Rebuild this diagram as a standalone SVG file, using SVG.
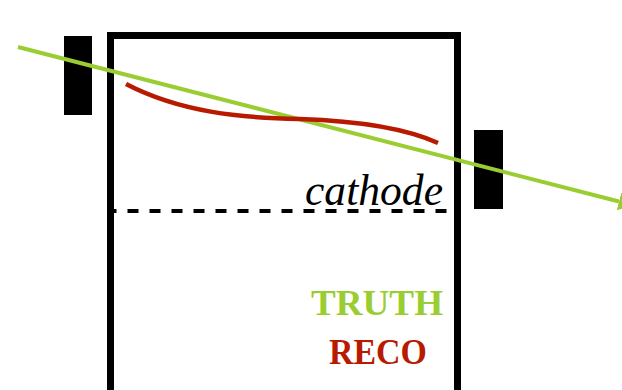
<svg xmlns="http://www.w3.org/2000/svg" width="622" height="390" viewBox="0 0 622 390">
  <style>
    .box { fill: none; stroke: #000; stroke-width: 7; }
    .det { fill: #000; }
    .truth { fill: none; stroke: #9ACD32; stroke-width: 4; }
    .reco { fill: none; stroke: #B81A00; stroke-width: 4.5; }
    .cathode-line { stroke: #000; stroke-width: 4; stroke-dasharray: 11 11; }
    .label { font-family: "Liberation Serif", serif; }
  </style>
  <defs>
    <marker id="arrow" markerUnits="userSpaceOnUse" markerWidth="16" markerHeight="18" viewBox="0 0 16 18" refX="0" refY="9" orient="auto">
      <path d="M0,0 L16,9 L0,18 z" fill="#9ACD32"/>
    </marker>
  </defs>
  <g id="cathode">
    <line class="cathode-line" x1="105.5" y1="211" x2="453" y2="211" stroke-dashoffset="0" clip-path="inset(0 0 0 1.5)"/>
    <text class="label" x="443" y="205" font-size="44" font-style="italic" text-anchor="end" textLength="138" lengthAdjust="spacingAndGlyphs">cathode</text>
  </g>
  <g id="chamber">
    <rect class="box" x="110.5" y="35.5" width="347" height="400"/>
  </g>
  <g id="detector-left">
    <rect class="det" x="64" y="36" width="28" height="79"/>
  </g>
  <g id="detector-right">
    <rect class="det" x="474" y="130" width="29" height="79"/>
  </g>
  <g id="connectors">
    <line class="truth" x1="18" y1="47" x2="619" y2="201.5" marker-end="url(#arrow)"/>
    <path class="reco" d="M126,84 C180,112 240,118 300,119 C360,121 405,128 438,143"/>
  </g>
  <g id="legend">
    <text class="label" x="377" y="315" font-size="35" font-weight="bold" fill="#9ACD32" text-anchor="middle" textLength="132" lengthAdjust="spacingAndGlyphs">TRUTH</text>
    <text class="label" x="378" y="363.5" font-size="35" font-weight="bold" fill="#B81A00" text-anchor="middle" textLength="98" lengthAdjust="spacingAndGlyphs">RECO</text>
  </g>
</svg>
